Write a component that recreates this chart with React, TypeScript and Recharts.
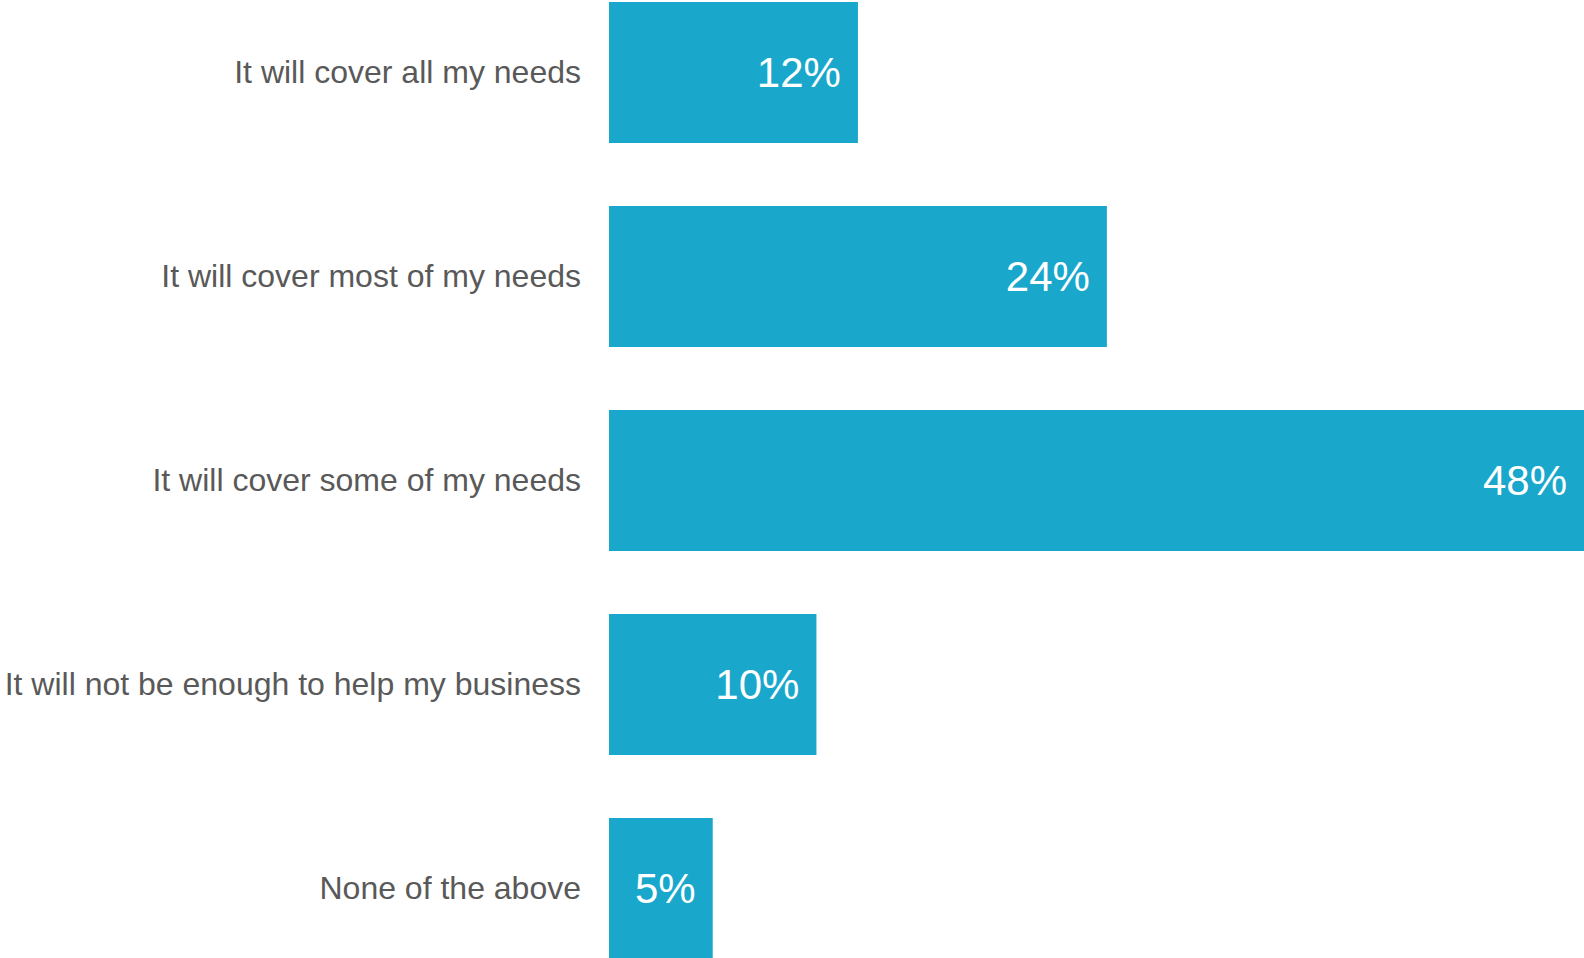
import { BarChart, Bar, XAxis, YAxis, LabelList } from "recharts";

const answers = [
  "It will cover all my needs",
  "It will cover most of my needs",
  "It will cover some of my needs",
  "It will not be enough to help my business",
  "None of the above",
];
const shares = [12, 24, 48, 10, 5];

const data = answers.map((name, i) => ({ name, value: shares[i] }));

const W = 1584;
const H = 958;
const BAR_COLOR = "#19a7cb";
const FONT = "'Liberation Sans', Arial, sans-serif";

// the source image cuts the longest bar at the right edge, so its label sits inside the visible part
function ValueLabel(props: any) {
  const { x, y, width, height, value } = props;
  const right = Math.min(x + width, W);
  return (
    <text
      x={right - 17}
      y={y + height / 2}
      textAnchor="end"
      dominantBaseline="central"
      fill="#ffffff"
      fontSize={42}
      fontFamily={FONT}
    >
      {value}%
    </text>
  );
}

export default function App() {
  return (
    <div style={{ position: "absolute", left: 0, top: 0, width: W, height: H, overflow: "hidden", background: "#fff" }}>
      <div style={{ marginTop: -30 }}>
        <BarChart
          width={W}
          height={1020}
          data={data}
          layout="vertical"
          margin={{ top: 0, right: 0, bottom: 0, left: 0 }}
          barSize={141}
        >
          <XAxis type="number" hide domain={[0, 47]} allowDataOverflow />
          <YAxis
            type="category"
            dataKey="name"
            width={609}
            axisLine={false}
            tickLine={false}
            tickSize={0}
            tickMargin={28}
            tick={{ fill: "#595959", fontSize: 32, fontFamily: FONT }}
          />
          <Bar dataKey="value" fill={BAR_COLOR} isAnimationActive={false}>
            <LabelList dataKey="value" content={ValueLabel} />
          </Bar>
        </BarChart>
      </div>
    </div>
  );
}
